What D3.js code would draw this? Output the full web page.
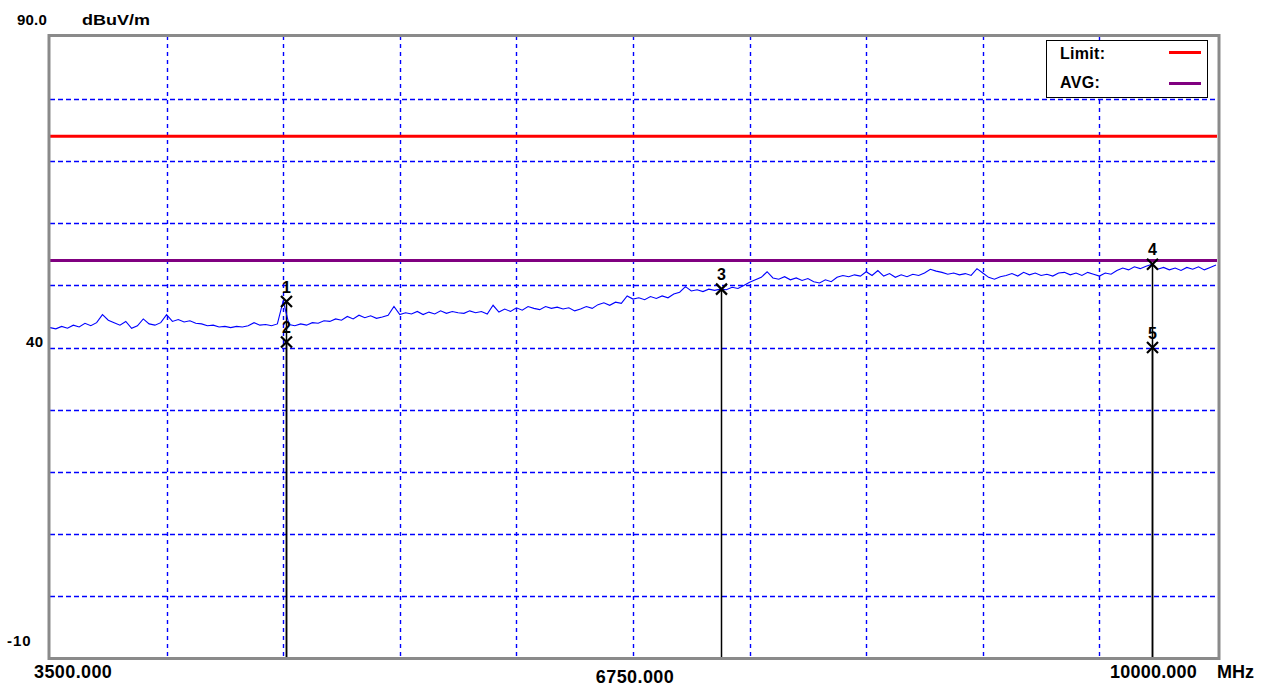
<!DOCTYPE html>
<html><head><meta charset="utf-8">
<script src="https://cdn.jsdelivr.net/npm/d3@7"></script>
<style>
html,body{margin:0;padding:0;background:#fff;}
svg{display:block;font-family:"Liberation Sans",Arial,sans-serif;font-weight:bold;}
</style></head>
<body>
<svg id="chart" width="1268" height="688"></svg>
<script>
// ---- data ----
const freqStart = 3500, freqEnd = 10000, freqStep = 32.5;
const yMin = -10, yMax = 90;
const traceValues = [
43.2,43.0,43.4,43.1,43.6,43.3,43.9,43.5,44.0,45.3,
44.4,44.0,43.6,44.2,43.1,43.5,44.6,43.8,43.6,44.0,
45.3,44.2,44.5,44.1,44.3,43.9,43.8,43.5,43.6,43.3,
43.4,43.2,43.4,43.3,43.5,44.0,43.6,43.7,43.5,43.8,
47.5,43.7,43.5,43.8,43.6,44.0,43.9,44.3,44.2,44.6,
44.4,45.0,44.6,45.2,44.8,45.1,44.7,44.9,45.2,46.6,
45.3,45.6,45.4,45.8,45.3,45.7,45.4,45.9,45.5,45.8,
45.6,45.5,45.9,45.6,45.8,45.4,46.8,45.7,46.2,45.8,
46.4,46.0,46.6,46.3,46.1,46.6,46.3,46.5,46.2,46.4,
45.9,46.2,46.6,46.3,46.9,47.2,46.8,47.3,47.1,48.3,
47.8,48.0,47.7,48.2,47.9,48.3,48.0,48.6,48.9,49.8,
49.1,49.3,49.0,49.4,49.2,49.4,49.3,49.7,49.5,50.0,
50.5,50.9,51.3,52.2,51.2,51.0,51.4,50.9,51.2,50.8,
51.1,50.6,50.4,50.9,50.6,51.3,51.6,51.4,51.7,51.5,
52.2,51.6,52.4,51.5,51.9,51.3,51.7,51.4,51.8,51.6,
52.0,52.6,52.3,52.1,51.8,52.0,51.7,51.9,51.6,52.7,
52.0,51.3,51.0,51.4,51.6,51.9,51.5,52.1,51.7,52.0,
51.6,51.8,51.5,52.0,52.1,51.7,52.0,51.6,52.1,51.8,
51.5,52.0,51.8,52.4,52.8,52.5,53.0,52.7,53.1,53.4,
52.6,52.9,52.5,52.8,52.4,52.9,52.6,53.0,52.5,52.9,53.3
];
const limitNames = ["Limit:", "AVG:"];
const limitValues = [74, 54];
const limitColors = ["#ff0000", "#800080"];
const markerIds = ["1","2","3","4","5"];
const markerFreqs = [4813, 4813, 7243, 9643, 9643];
const markerValues = [47.4, 40.9, 49.4, 53.4, 40.0];
const xTickLabels = ["3500.000", "6750.000", "10000.000"];
const xTickValues = [3500, 6750, 10000];
const yTickLabels = ["90.0", "40", "-10"];
const yTickValues = [90, 40, -10];
const yUnit = "dBuV/m", xUnit = "MHz";

// ---- chart ----
const svg = d3.select("#chart");
const L = 50, R = 1216, T = 37, B = 658;
const x = d3.scaleLinear().domain([freqStart, freqEnd]).range([L, R]);
const y = d3.scaleLinear().domain([yMin, yMax]).range([B, T]);

// grid
const g = svg.append("g");
g.selectAll("line.vg").data(d3.range(1, 10)).join("line")
  .attr("x1", i => Math.round(x(freqStart + i * 650)) + 0.5)
  .attr("x2", i => Math.round(x(freqStart + i * 650)) + 0.5)
  .attr("y1", T - 1).attr("y2", B)
  .attr("stroke", "#0000ff").attr("stroke-width", 1.4).attr("stroke-dasharray", "4,4");
g.selectAll("line.hg").data(d3.range(1, 10)).join("line")
  .attr("y1", i => Math.round(y(yMin + i * 10)) + 0.5)
  .attr("y2", i => Math.round(y(yMin + i * 10)) + 0.5)
  .attr("x1", L).attr("x2", R)
  .attr("stroke", "#0000ff").attr("stroke-width", 1.4).attr("stroke-dasharray", "5,3");

// limit lines
svg.selectAll("line.lim").data(limitValues).join("line")
  .attr("x1", L).attr("x2", R + 1)
  .attr("y1", d => y(d)).attr("y2", d => y(d))
  .attr("stroke", (d, i) => limitColors[i]).attr("stroke-width", 3);

// marker lines
svg.selectAll("line.mk").data(markerIds).join("line")
  .attr("x1", (d, i) => Math.round(x(markerFreqs[i])) + 0.5)
  .attr("x2", (d, i) => Math.round(x(markerFreqs[i])) + 0.5)
  .attr("y1", (d, i) => y(markerValues[i]))
  .attr("y2", B)
  .attr("stroke", "#000").attr("stroke-width", 1.5);

// trace
const line = d3.line().x((d, i) => x(freqStart + i * freqStep)).y(d => y(d));
svg.append("path").datum(traceValues)
  .attr("d", line).attr("fill", "none")
  .attr("stroke", "#0000ff").attr("stroke-width", 1.1);

// markers
const mk = svg.selectAll("g.m").data(markerIds).join("g")
  .attr("transform", (d, i) => `translate(${Math.round(x(markerFreqs[i])) + 0.5},${y(markerValues[i])})`);
mk.append("path").attr("d", "M-5.5,-5.5L5.5,5.5M-5.5,5.5L5.5,-5.5")
  .attr("stroke", "#000").attr("stroke-width", 2.2).attr("fill", "none");
mk.append("text").text(d => d)
  .attr("x", 0).attr("y", -9).attr("text-anchor", "middle")
  .attr("font-size", 16).attr("fill", "#000");

// frame
svg.append("rect").attr("x", 49).attr("y", 35.5).attr("width", 1170).attr("height", 623)
  .attr("fill", "none").attr("stroke", "#8a8a8a").attr("stroke-width", 3);

// legend
const lg = svg.append("g");
lg.append("rect").attr("x", 1046.5).attr("y", 40.5).attr("width", 161).attr("height", 57)
  .attr("fill", "#fff").attr("stroke", "#000").attr("stroke-width", 1);
limitNames.forEach((n, i) => {
  lg.append("text").text(n).attr("x", 1060).attr("y", 59 + i * 29)
    .attr("font-size", 16).attr("letter-spacing", 0.3).attr("fill", "#000");
  lg.append("line").attr("x1", 1169).attr("x2", 1201)
    .attr("y1", 52.5 + i * 31).attr("y2", 52.5 + i * 31)
    .attr("stroke", limitColors[i]).attr("stroke-width", 3);
});

// y labels
svg.append("text").text(yTickLabels[0]).attr("x", 17).attr("y", 25)
  .attr("font-size", 15).attr("letter-spacing", 0.2).attr("fill", "#000");
svg.append("text").text(yUnit).attr("x", 82).attr("y", 25)
  .attr("font-size", 15).attr("textLength", 68).attr("lengthAdjust", "spacingAndGlyphs").attr("fill", "#000");
svg.append("text").text(yTickLabels[1]).attr("x", 26).attr("y", y(yTickValues[1]) - 1)
  .attr("font-size", 15).attr("letter-spacing", 0.5).attr("fill", "#000");
svg.append("text").text(yTickLabels[2]).attr("x", 7).attr("y", y(yTickValues[2]) - 12)
  .attr("font-size", 15).attr("letter-spacing", 1).attr("fill", "#000");

// x labels
svg.append("text").text(xTickLabels[0]).attr("x", x(xTickValues[0]) - 16).attr("y", 678)
  .attr("font-size", 18).attr("letter-spacing", 0.4).attr("fill", "#000");
svg.append("text").text(xTickLabels[1]).attr("x", x(xTickValues[1]) + 2).attr("y", 683)
  .attr("text-anchor", "middle").attr("font-size", 18).attr("letter-spacing", 0.4).attr("fill", "#000");
svg.append("text").text(xTickLabels[2]).attr("x", x(xTickValues[2]) - 19).attr("y", 678)
  .attr("text-anchor", "end").attr("font-size", 18).attr("letter-spacing", 0.2).attr("fill", "#000");
svg.append("text").text(xUnit).attr("x", 1217).attr("y", 678)
  .attr("font-size", 18).attr("fill", "#000");
</script>
</body></html>
